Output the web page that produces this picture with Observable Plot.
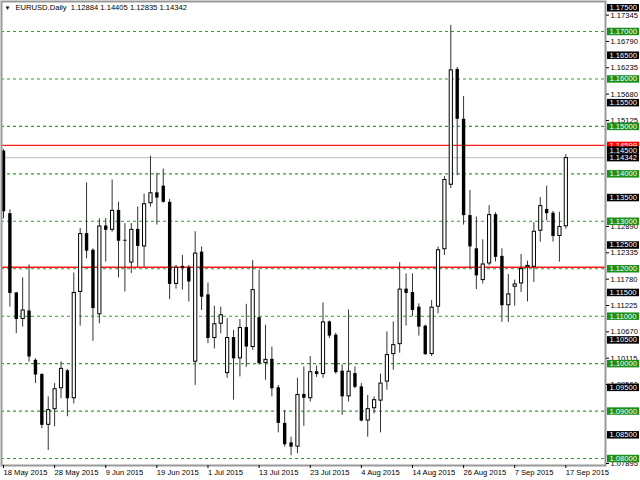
<!DOCTYPE html>
<html><head><meta charset="utf-8">
<script src="https://cdn.jsdelivr.net/npm/d3@7"></script>
<script src="https://cdn.jsdelivr.net/npm/@observablehq/plot@0.6"></script>
<style>html,body{margin:0;padding:0;background:#fff;} #chart svg{display:block}</style>
</head><body><div id="chart"></div>
<script>
const dates = ["2015-05-18","2015-05-19","2015-05-20","2015-05-21","2015-05-22","2015-05-25","2015-05-26","2015-05-27","2015-05-28","2015-05-29",
"2015-06-01","2015-06-02","2015-06-03","2015-06-04","2015-06-05","2015-06-08","2015-06-09","2015-06-10","2015-06-11","2015-06-12","2015-06-15","2015-06-16","2015-06-17","2015-06-18","2015-06-19","2015-06-22","2015-06-23","2015-06-24","2015-06-25","2015-06-26","2015-06-29","2015-06-30",
"2015-07-01","2015-07-02","2015-07-03","2015-07-06","2015-07-07","2015-07-08","2015-07-09","2015-07-10","2015-07-13","2015-07-14","2015-07-15","2015-07-16","2015-07-17","2015-07-20","2015-07-21","2015-07-22","2015-07-23","2015-07-24","2015-07-27","2015-07-28","2015-07-29","2015-07-30","2015-07-31",
"2015-08-03","2015-08-04","2015-08-05","2015-08-06","2015-08-07","2015-08-10","2015-08-11","2015-08-12","2015-08-13","2015-08-14","2015-08-17","2015-08-18","2015-08-19","2015-08-20","2015-08-21","2015-08-24","2015-08-25","2015-08-26","2015-08-27","2015-08-28","2015-08-31",
"2015-09-01","2015-09-02","2015-09-03","2015-09-04","2015-09-07","2015-09-08","2015-09-09","2015-09-10","2015-09-11","2015-09-14","2015-09-15","2015-09-16","2015-09-17"];

const open = [1.1448,1.1316,1.1149,1.1093,1.1111,1.1007,1.0977,1.0870,1.0903,1.0947,
1.0985,1.0926,1.1150,1.1274,1.1239,1.1103,1.1290,1.1281,1.1323,1.1260,
1.1212,1.1283,1.1246,1.1337,1.1360,1.1374,1.1340,1.1167,1.1205,1.1203,
1.1003,1.1235,1.1145,1.1053,1.1083,1.0979,1.1055,1.1010,1.1076,1.1034,
1.1097,1.1000,1.1009,1.0949,1.0874,1.0833,1.0824,1.0935,1.0926,1.0983,
1.0977,1.1088,1.1060,1.0984,1.0930,1.0979,1.0951,1.0879,1.0905,1.0921,
1.0961,1.1019,1.1040,1.1157,1.1150,1.1119,1.1079,1.1019,1.1119,1.1240,
1.1376,1.1620,1.1515,1.1312,1.1242,1.1175,1.1210,1.1314,1.1226,1.1122,
1.1161,1.1168,1.1202,1.1203,1.1279,1.1325,1.1317,1.1268,1.12884];

const high = [1.1451,1.1324,1.1150,1.1181,1.1208,1.1010,1.0979,1.0930,1.0958,1.1004,
1.0988,1.1191,1.1285,1.1381,1.1242,1.1305,1.1306,1.1387,1.1340,1.1295,
1.1295,1.1330,1.1357,1.1437,1.1401,1.1410,1.1346,1.1207,1.1228,1.1207,
1.1278,1.1246,1.1170,1.1121,1.1119,1.1095,1.1070,1.1093,1.1125,1.1217,
1.1197,1.1081,1.1035,1.0954,1.0901,1.0845,1.0969,1.0993,1.1015,1.0995,
1.1128,1.1090,1.1064,1.0997,1.1113,1.0993,1.0958,1.0933,1.0930,1.0978,
1.1067,1.1088,1.1213,1.1189,1.1189,1.1126,1.1081,1.1133,1.1246,1.1394,
1.1713,1.1624,1.1563,1.1365,1.1309,1.1261,1.1333,1.1318,1.1242,1.1188,
1.1176,1.1230,1.1216,1.1297,1.1350,1.1374,1.1321,1.1319,1.14405];

const low = [1.1305,1.1119,1.1063,1.1077,1.1003,1.0958,1.0863,1.0817,1.0867,1.0926,
1.0888,1.0915,1.1079,1.1221,1.1047,1.1084,1.1214,1.1277,1.1181,1.1151,
1.1190,1.1203,1.1203,1.1330,1.1292,1.1338,1.1135,1.1157,1.1155,1.1130,
1.0954,1.1112,1.1042,1.1031,1.1063,1.0969,1.0923,1.0972,1.0992,1.1028,
1.0997,1.0965,1.0930,1.0854,1.0824,1.0806,1.0810,1.0868,1.0919,1.0971,
1.0969,1.1053,1.0978,1.0891,1.0919,1.0947,1.0877,1.0845,1.0894,1.0854,
1.0944,1.0986,1.1022,1.1079,1.1099,1.1058,1.1017,1.1015,1.1105,1.1228,
1.1369,1.1396,1.1292,1.1200,1.1156,1.1168,1.1206,1.1214,1.1087,1.1087,
1.1121,1.1150,1.1130,1.1171,1.1256,1.1301,1.1256,1.1214,1.12835];

const close = [1.1320,1.1148,1.1093,1.1113,1.1014,1.0976,1.0870,1.0903,1.0947,1.0990,
1.0926,1.1150,1.1274,1.1237,1.1116,1.1290,1.1281,1.1323,1.1258,1.1258,
1.1283,1.1247,1.1337,1.1360,1.1349,1.1340,1.1167,1.1203,1.1201,1.1172,
1.1233,1.1140,1.1053,1.1084,1.1103,1.1055,1.1010,1.1076,1.1035,1.1156,
1.1000,1.1009,1.0947,1.0874,1.0829,1.0824,1.0935,1.0927,1.0983,1.0977,
1.1088,1.1058,1.0981,1.0930,1.0984,1.0950,1.0879,1.0905,1.0924,1.0959,
1.1019,1.1040,1.1157,1.1148,1.1112,1.1077,1.1019,1.1119,1.1240,1.1388,
1.1619,1.1515,1.1312,1.1246,1.1185,1.1210,1.1314,1.1224,1.1122,1.1147,
1.1168,1.1200,1.1207,1.1279,1.1333,1.1316,1.1268,1.1289,1.14342];

const gridLevels = [1.17,1.16,1.15,1.14,1.13,1.12,1.11,1.10,1.09,1.08];
const halfLevels = [1.175,1.165,1.155,1.145,1.135,1.125,1.115,1.105,1.095,1.085];
const scaleTicks = [1.17345,1.16790,1.16235,1.15680,1.15125,1.12890,1.12335,1.11780,1.11225,1.10670,1.10115,1.09560,1.07895];
const redLevels = [1.14599, 1.1203];
const bidPrice = 1.14342;
const symbolTitle = "EURUSD.Daily  1.12884 1.14405 1.12835 1.14342";

const parse = d3.utcParse("%Y-%m-%d");
const fmtDate = d3.utcFormat("%-d %b %Y");
const fmtPrice = d3.format(".5f");
const bars = dates.map((d, i) => ({i, date: parse(d), open: open[i], high: high[i], low: low[i], close: close[i]}));
const bull = bars.filter(b => b.close >= b.open);
const bear = bars.filter(b => b.close < b.open);
const bullInner = bull.filter(b => b.close - b.open > 0.0004);
const tickIdx = bars.filter(b => b.i % 8 === 0).map(b => b.i);

const boxOpts = {dx: 34, insetLeft: 572, strokeWidth: 7.5};
const labelOpts = {text: fmtPrice, frameAnchor: "right", dx: 4, textAnchor: "start", fill: "#fff"};

const chart = Plot.plot({
  width: 640, height: 480,
  marginTop: 1, marginBottom: 15, marginLeft: 1, marginRight: 35,
  style: {fontFamily: "'Liberation Sans', Arial, sans-serif", fontSize: "7.6px", background: "#fff", color: "#000", overflow: "visible"},
  x: {type: "linear", domain: [-0.313, 94.21], axis: null},
  y: {type: "linear", domain: [1.07853, 1.17632], axis: null},
  marks: [
    Plot.ruleY(gridLevels, {y: d => d, stroke: "#2ca02c", strokeWidth: 1.1, strokeDasharray: "3,3"}),
    Plot.ruleY(redLevels, {y: d => d, stroke: "#ff1a1a", strokeWidth: 1.4}),
    Plot.ruleY([bidPrice], {y: d => d, stroke: "#c8c8c8", strokeWidth: 1.2}),
    Plot.ruleX(bars, {x: "i", y1: "low", y2: "high", stroke: "#333", strokeWidth: 1}),
    Plot.ruleX(bear, {x: "i", y1: "open", y2: "close", stroke: "#000", strokeWidth: 3.4}),
    Plot.ruleX(bull, {x: "i", y1: "close", y2: "open", stroke: "#000", strokeWidth: 4.2}),
    Plot.ruleX(bullInner, {x: "i", y1: "close", y2: "open", stroke: "#fff", strokeWidth: 2.2, insetTop: 1, insetBottom: 1}),
    Plot.frame({stroke: "#999", strokeWidth: 2}),
    Plot.axisX({ticks: tickIdx, tickFormat: i => fmtDate(bars[i].date), tickSize: 3, tickPadding: 1, textAnchor: "start", label: null}),
    Plot.axisY({anchor: "right", ticks: scaleTicks, tickFormat: fmtPrice, tickSize: 3, tickPadding: 2, label: null}),
    Plot.ruleY([redLevels[0]], {y: d => d, stroke: "#ff0000", ...boxOpts}),
    Plot.text([redLevels[0]], {y: d => d, ...labelOpts}),
    Plot.ruleY(gridLevels, {y: d => d, stroke: "#1a8f1a", ...boxOpts}),
    Plot.text(gridLevels, {y: d => d, ...labelOpts}),
    Plot.ruleY(halfLevels, {y: d => d, stroke: "#000", ...boxOpts}),
    Plot.text(halfLevels, {y: d => d, ...labelOpts}),
    Plot.ruleY([bidPrice], {y: d => d, stroke: "#000", ...boxOpts}),
    Plot.text([bidPrice], {y: d => d, ...labelOpts}),
    Plot.text(["▼"], {text: d => d, frameAnchor: "top-left", dx: 3, dy: 4, lineAnchor: "top", textAnchor: "start", fontSize: 6, fill: "#000"}),
    Plot.text([symbolTitle], {text: d => d, frameAnchor: "top-left", dx: 14, dy: 3.5, lineAnchor: "top", textAnchor: "start", fill: "#000"})
  ]
});
document.getElementById("chart").appendChild(chart);
</script>
</body></html>
